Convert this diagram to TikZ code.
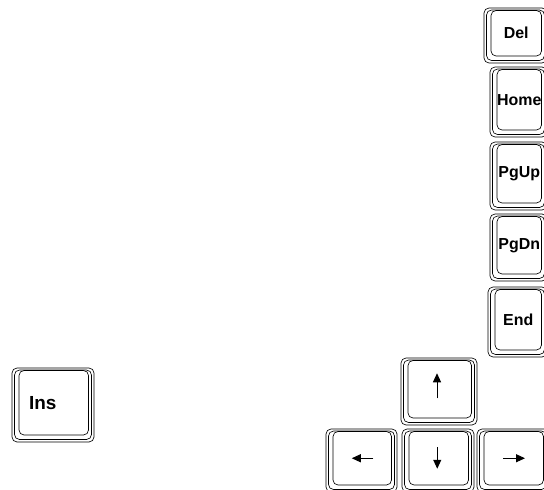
\documentclass[tikz,border=0pt]{standalone}
\usepackage{fontspec}
\setmainfont{Liberation Sans}
\usetikzlibrary{calc, arrows.meta, positioning}

\tikzset{
  keyline/.style={line width=0.65pt, rounded corners=5bp},
  keytext/.style={font=\bfseries\fontsize{16}{16}\selectfont, inner sep=0pt},
  keyarrow/.style={line width=1pt, -{Triangle[length=9bp,width=8bp]}},
}

% #1 label options, #2 name, #3 top left, #4 bottom right, #5 text
\newcommand{\keycap}[5][]{
  \draw[keyline] (#3) rectangle (#4);
  \draw[keyline] ($(#3)+(2.5,2)$) rectangle ($(#4)+(-2.5,-2.5)$);
  \draw[keyline] ($(#3)+(7,2.5)$) rectangle ($(#4)+(-5.5,-7)$);
  \node[keytext,#1] (#2) at ($(#3)!0.5!(#4)+(0.75,-2.25)$) {#5};
}

\begin{document}
\begin{tikzpicture}[x=1bp,y=-1bp]
  \useasboundingbox (0,0) rectangle (544,490);
  \clip (0,0) rectangle (544,490);

  % right column
  \keycap{del}{484,8}{547,63}{Del}
  \keycap{home}{490,67}{547,137}{Home}
  \keycap{pgup}{490,142}{547,210}{PgUp}
  \keycap{pgdn}{490,214}{547,281}{PgDn}
  \keycap{end}{488,287}{547,357}{End}

  \keycap[font=\bfseries\fontsize{19}{19}\selectfont, xshift=-11bp]{ins}{12,368}{94,442}{Ins}

  % arrow block
  \keycap{kup}{401,358}{477,425}{}
  \keycap{kleft}{326,429}{397,492}{}
  \keycap{kdown}{402,429}{474,492}{}
  \keycap{kright}{477,429}{549,492}{}

  \draw[keyarrow] ($(kup)+(-2.75,9)$) -- ($(kup)+(-2.75,-16)$);
  \draw[keyarrow] ($(kdown)+(-1.5,-11.25)$) -- ($(kdown)+(-1.5,10.5)$);
  \draw[keyarrow] ($(kleft)+(11,0)$) -- ($(kleft)+(-10.5,0)$);
  \draw[keyarrow] ($(kright)+(-10.5,0)$) -- ($(kright)+(11.25,0)$);
\end{tikzpicture}
\end{document}
